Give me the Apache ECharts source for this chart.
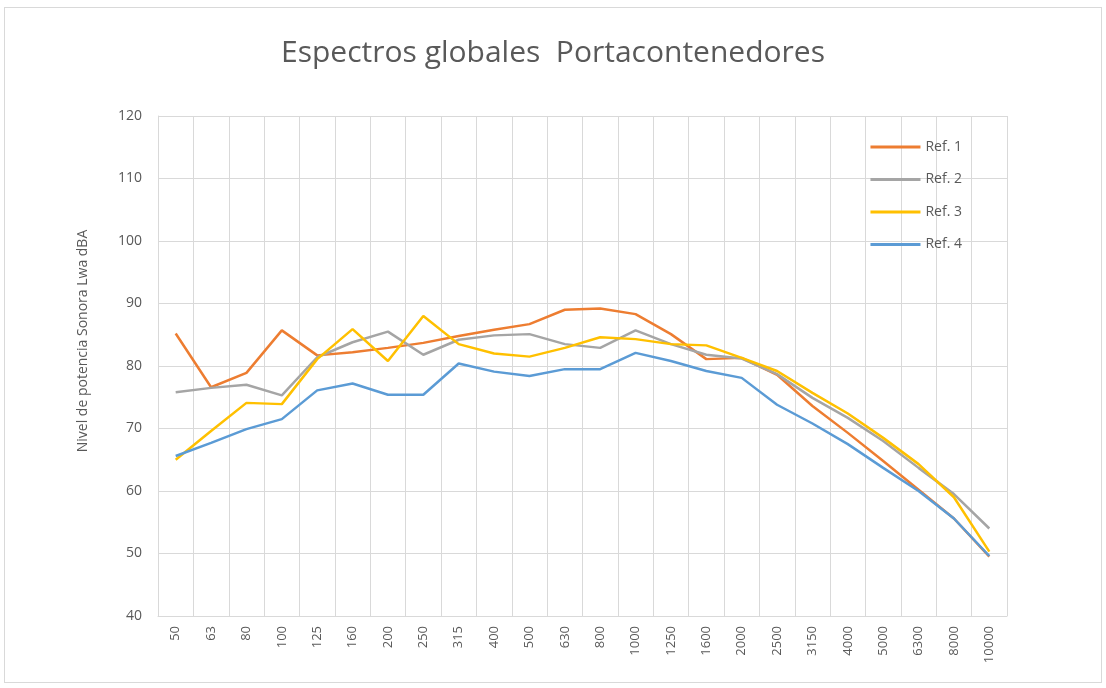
<!DOCTYPE html>
<html>
<head>
    <meta charset="utf-8">
    <title>Espectros globales Portacontenedores</title>
    <script src="https://cdn.jsdelivr.net/npm/echarts@6/dist/echarts.min.js"></script>
    <style>
        html, body {
            margin: 0;
            padding: 0;
            background: #fff;
        }

        #chart {
            position: absolute;
            left: 4px;
            top: 7px;
            width: 1098px;
            height: 676px;
            border: 1px solid #d9d9d9;
            box-sizing: border-box;
        }
    </style>
</head>
<body>
<div id="chart"></div>
<script>
    // bandas de tercio de octava (Hz)
    var bandas = ['50', '63', '80', '100', '125', '160', '200', '250', '315', '400', '500', '630',
        '800', '1000', '1250', '1600', '2000', '2500', '3150', '4000', '5000', '6300', '8000', '10000'];

    var ref1 = [85.2, 76.6, 78.9, 85.7, 81.7, 82.2, 82.9, 83.7, 84.8, 85.8, 86.7, 89.0,
        89.2, 88.3, 85.1, 81.1, 81.3, 78.6, 73.6, 69.3, 64.8, 60.2, 55.6, 49.5];
    var ref2 = [75.8, 76.5, 77.0, 75.3, 81.4, 83.8, 85.5, 81.8, 84.2, 84.9, 85.1, 83.5,
        82.9, 85.7, 83.5, 81.8, 81.2, 78.7, 74.9, 71.7, 68.0, 63.7, 59.5, 54.0];
    var ref3 = [65.0, 69.6, 74.1, 73.9, 81.1, 85.9, 80.8, 88.0, 83.5, 82.0, 81.5, 82.9,
        84.6, 84.3, 83.5, 83.3, 81.3, 79.2, 75.7, 72.4, 68.5, 64.3, 59.0, 50.3];
    var ref4 = [65.6, 67.7, 69.9, 71.5, 76.1, 77.2, 75.4, 75.4, 80.4, 79.1, 78.4, 79.5,
        79.5, 82.1, 80.8, 79.2, 78.1, 73.8, 70.8, 67.5, 63.7, 60.0, 55.6, 49.6];

    var nombres = ['Ref. 1', 'Ref. 2', 'Ref. 3', 'Ref. 4'];
    var colores = ['#ED7D31', '#A5A5A5', '#FFC000', '#5B9BD5'];

    var chart = echarts.init(document.getElementById('chart'));

    var series = [ref1, ref2, ref3, ref4].map(function (d, i) {
        return {
            name: nombres[i],
            type: 'line',
            data: d,
            symbol: 'none',
            smooth: false,
            lineStyle: {width: 2.5, color: colores[i]},
            itemStyle: {color: colores[i]}
        };
    });

    chart.setOption({
        animation: false,
        textStyle: {fontFamily: 'Open Sans'},
        title: {
            text: 'Espectros globales  Portacontenedores',
            left: 'center',
            top: 25,
            textStyle: {fontSize: 30, fontWeight: 'normal', color: '#595959', fontFamily: 'Open Sans'}
        },
        legend: {
            orient: 'vertical',
            right: 134,
            top: 127,
            icon: 'rect',
            itemWidth: 50,
            itemHeight: 3,
            itemGap: 18.5,
            textStyle: {fontSize: 14, color: '#595959'},
            data: nombres
        },
        grid: {
            left: 153,
            right: 94,
            top: 108,
            bottom: 66
        },
        xAxis: {
            type: 'category',
            data: bandas,
            boundaryGap: true,
            axisLine: {lineStyle: {color: '#d9d9d9'}},
            axisTick: {show: false},
            splitLine: {show: true, lineStyle: {color: '#d9d9d9', width: 1}},
            axisLabel: {
                rotate: 90,
                interval: 0,
                fontSize: 13,
                color: '#595959',
                margin: 10
            }
        },
        yAxis: {
            type: 'value',
            min: 40,
            max: 120,
            interval: 10,
            name: 'Nivel de potencia Sonora Lwa dBA',
            nameLocation: 'middle',
            nameGap: 68,
            nameTextStyle: {fontSize: 14, color: '#595959', padding: [0, 0, 0, 50]},
            axisLine: {show: true, lineStyle: {color: '#d9d9d9'}},
            axisTick: {show: false},
            splitLine: {lineStyle: {color: '#d9d9d9', width: 1}},
            axisLabel: {fontSize: 14, color: '#595959', margin: 16}
        },
        series: series
    });
</script>
</body>
</html>
